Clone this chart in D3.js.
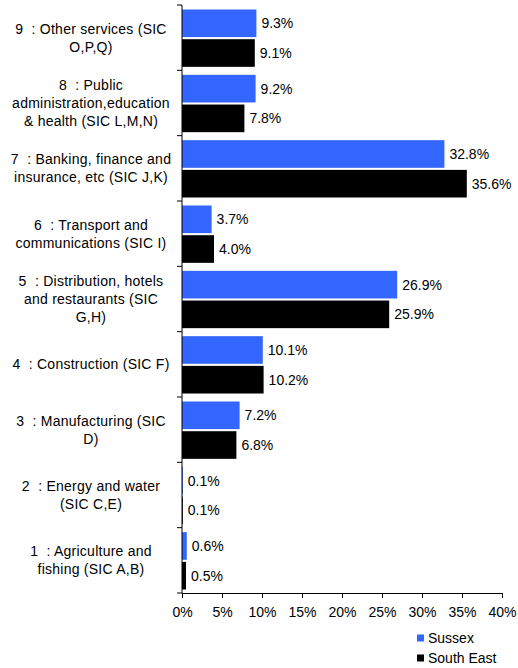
<!DOCTYPE html>
<html>
<head>
<meta charset="utf-8">
<script src="https://cdn.jsdelivr.net/npm/d3@7"></script>
<style>
  html, body { margin: 0; padding: 0; background: #fff; }
  svg text { font-family: "Liberation Sans", Arial, sans-serif; fill: #000; }
</style>
</head>
<body>
<svg id="chart" width="518" height="668"></svg>
<script>
// Industry groups, bottom to top as in the original ordering (1 at bottom).
const categories = [
  ["1  : Agriculture and", "fishing (SIC A,B)"],
  ["2  : Energy and water", "(SIC C,E)"],
  ["3  : Manufacturing (SIC", "D)"],
  ["4  : Construction (SIC F)"],
  ["5  : Distribution, hotels", "and restaurants (SIC", "G,H)"],
  ["6  : Transport and", "communications (SIC I)"],
  ["7  : Banking, finance and", "insurance, etc (SIC J,K)"],
  ["8  : Public", "administration,education", "& health (SIC L,M,N)"],
  ["9  : Other services (SIC", "O,P,Q)"]
];
const seriesNames = ["Sussex", "South East"];
const sussex    = [0.6, 0.1, 7.2, 10.1, 26.9, 3.7, 32.8, 9.2, 9.3];
const southEast = [0.5, 0.1, 6.8, 10.2, 25.9, 4.0, 35.6, 7.8, 9.1];
const xTicks = [0, 5, 10, 15, 20, 25, 30, 35, 40];

const colors = { "Sussex": "#3366ff", "South East": "#000000" };
const fontSize = 14;

const svg = d3.select("#chart");
const plotLeft = 182, plotRight = 502, plotTop = 5, plotBottom = 593;

const x = d3.scaleLinear().domain([0, 40]).range([plotLeft, plotRight]);
const keys = categories.map((c, i) => i);
// Category 9 at the top, category 1 at the bottom
const y = d3.scaleBand().domain(keys.slice().reverse()).range([plotTop, plotBottom]).paddingInner(0).paddingOuter(0);
const inner = d3.scaleBand().domain(seriesNames).range([4.5, y.bandwidth() - 3.5]).paddingInner(0.07);

const rows = keys.map(i => ({ i, values: [
  { name: "Sussex", v: sussex[i] },
  { name: "South East", v: southEast[i] }
]}));

const groups = svg.append("g").selectAll("g").data(rows).join("g")
  .attr("transform", d => `translate(0,${y(d.i)})`);

groups.selectAll("rect").data(d => d.values).join("rect")
  .attr("x", x(0))
  .attr("y", d => inner(d.name))
  .attr("width", d => x(d.v) - x(0))
  .attr("height", inner.bandwidth())
  .attr("fill", d => colors[d.name]);

groups.selectAll("text.val").data(d => d.values).join("text")
  .attr("class", "val")
  .attr("x", d => x(d.v) + 5)
  .attr("y", d => inner(d.name) + inner.bandwidth() / 2)
  .attr("dy", "0.35em")
  .attr("font-size", fontSize)
  .text(d => d.v.toFixed(1) + "%");

// Category labels, centred multi-line blocks to the left of the axis
const lineH = 18;
groups.append("text")
  .attr("text-anchor", "middle")
  .attr("font-size", fontSize)
  .attr("letter-spacing", 0.25)
  .each(function(d) {
    const lines = categories[d.i];
    const t = d3.select(this);
    const startY = y.bandwidth() / 2 - (lines.length - 1) * lineH / 2;
    lines.forEach((ln, k) => {
      t.append("tspan")
        .attr("x", 91)
        .attr("y", startY + k * lineH)
        .attr("dy", "0.35em")
        .style("white-space", "pre")
        .text(ln);
    });
  });

// Vertical category axis with outward boundary ticks
const yAxisG = svg.append("g");
yAxisG.append("line")
  .attr("x1", x(0)).attr("x2", x(0))
  .attr("y1", plotTop).attr("y2", plotBottom)
  .attr("stroke", "#000").attr("stroke-width", 1);
yAxisG.selectAll("line.tick").data(d3.range(keys.length + 1)).join("line")
  .attr("class", "tick")
  .attr("x1", x(0) - 5).attr("x2", x(0))
  .attr("y1", k => plotTop + k * y.step()).attr("y2", k => plotTop + k * y.step())
  .attr("stroke", "#000");

// Horizontal value axis
const xAxis = d3.axisBottom(x).tickValues(xTicks).tickFormat(d => d + "%").tickSizeInner(5).tickSizeOuter(0);
const xg = svg.append("g").attr("transform", `translate(0,${plotBottom})`).call(xAxis);
xg.select(".domain").attr("stroke", "#000");
xg.selectAll(".tick line").attr("stroke", "#000");
xg.selectAll(".tick text")
  .attr("font-size", fontSize)
  .attr("font-family", "Liberation Sans, Arial, sans-serif")
  .attr("fill", "#000")
  .attr("y", 14);

// Legend
const legend = svg.append("g").attr("transform", "translate(417,638)");
const li = legend.selectAll("g").data(seriesNames).join("g")
  .attr("transform", (d, k) => `translate(0,${k * 20})`);
li.append("rect").attr("x", 0).attr("y", -3.5).attr("width", 7).attr("height", 7)
  .attr("fill", d => colors[d]);
li.append("text").attr("x", 11).attr("y", 0).attr("dy", "0.35em")
  .attr("font-size", fontSize).text(d => d);
</script>
</body>
</html>
